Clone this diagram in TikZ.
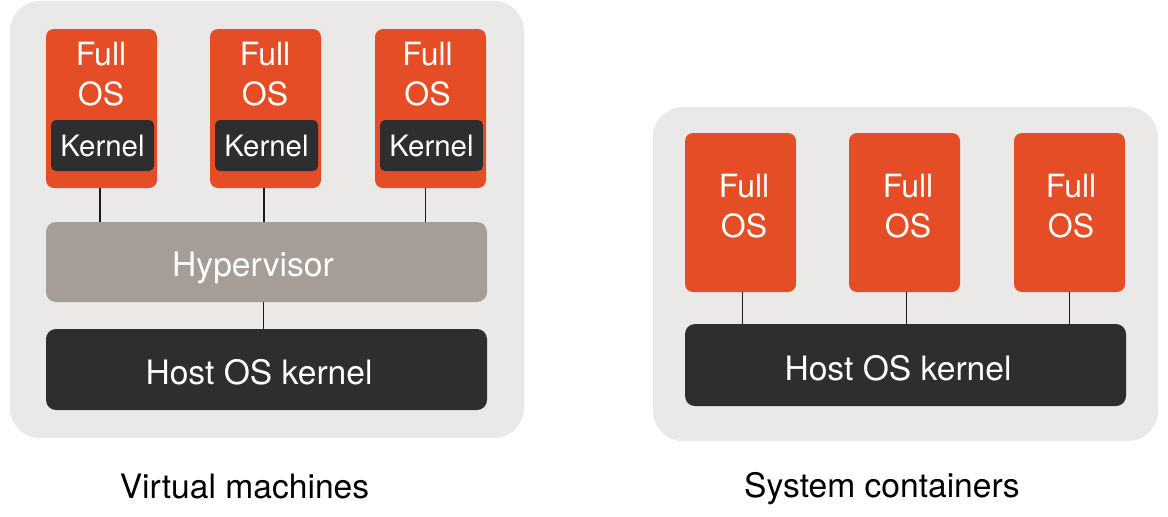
\documentclass[tikz,border=0pt]{standalone}
\usepackage{fontspec}
\setmainfont{TeX Gyre Heros}
\usetikzlibrary{positioning}
\definecolor{stackOrange}{HTML}{E54D26}
\definecolor{stackDark}{HTML}{2E2E2E}
\definecolor{stackGray}{HTML}{A69D97}
\definecolor{stackPanel}{HTML}{EAE9E7}
\definecolor{stackLine}{HTML}{1A1A1A}
\tikzset{
  every picture/.style={x=0.5pt, y=-0.5pt},
  stack panel/.style={fill=stackPanel, rounded corners=15pt, inner sep=0pt},
  os box/.style={fill=stackOrange, rounded corners=4pt, inner sep=0pt,
    minimum width=55.5pt, minimum height=79.5pt},
  os text/.style={text=white, align=center, font=\fontsize{16}{20}\selectfont},
  kernel box/.style={fill=stackDark, rounded corners=2.5pt, inner sep=0pt,
    minimum width=51.5pt, minimum height=25.5pt, text=white,
    font=\fontsize{14.7}{17}\selectfont},
  layer box/.style={rounded corners=5pt, inner sep=0pt, minimum width=220.5pt},
  layer text/.style={anchor=base, inner sep=0pt, text=white,
    font=\fontsize{16.8}{20}\selectfont},
  caption/.style={anchor=base, inner sep=0pt, text=black,
    font=\fontsize{16.8}{20}\selectfont},
  link/.style={draw=stackLine, line width=0.65pt}
}
\begin{document}
\begin{tikzpicture}
  \useasboundingbox (0,0) rectangle (1168,516);
  % virtual machines
  \node[stack panel, minimum width=257pt, minimum height=218.5pt] (vmPanel) at (267,219.5) {};
  \node[os box] (osA) at (101.5,108.5) {};
  \node[os box] (osB) at (265.5,108.5) {};
  \node[os box] (osC) at (430.5,108.5) {};
  \node[os text] (osAtext) at (101,74.5) {Full\\OS};
  \node[os text] (osBtext) at (265,74.5) {Full\\OS};
  \node[os text] (osCtext) at (427.5,74.5) {Full\\OS};
  \node[kernel box] (kernA) at (102.5,145.5) {Kernel};
  \node[kernel box] (kernB) at (266.5,145.5) {Kernel};
  \node[kernel box] (kernC) at (431.5,145.5) {Kernel};
  \node[layer box, fill=stackGray, minimum height=40pt] (hyp) at (266.5,262) {};
  \node[layer text] (hypText) at (253,276) {Hypervisor};
  \node[layer box, fill=stackDark, minimum height=40.5pt] (vmHost) at (266.5,369.5) {};
  \node[layer text] (vmHostText) at (259,384) {Host OS kernel};
  \foreach \vm/\dx in {osA/-1.5,osB/-1.5,osC/-5}
    \draw[link] ([xshift=\dx*0.5pt]\vm.south) -- ([xshift=\dx*0.5pt]\vm.south |- hyp.north);
  \draw[link] ([xshift=-1.5pt]hyp.south) -- ([xshift=-1.5pt]vmHost.north);
  \node[caption] (vmLabel) at (244.5,498) {Virtual machines};
  % system containers
  \node[stack panel, minimum width=252.5pt, minimum height=167pt] (ctPanel) at (905.5,274) {};
  \node[os box] (ctA) at (740.5,212.5) {};
  \node[os box] (ctB) at (904.5,212.5) {};
  \node[os box] (ctC) at (1069.5,212.5) {};
  \node[os text] (ctAtext) at (744,206.5) {Full\\OS};
  \node[os text] (ctBtext) at (908,206.5) {Full\\OS};
  \node[os text] (ctCtext) at (1071,206.5) {Full\\OS};
  \node[layer box, fill=stackDark, minimum height=41pt] (ctHost) at (905.5,365) {};
  \node[layer text] (ctHostText) at (898,380) {Host OS kernel};
  \foreach \ct/\dx in {ctA/2,ctB/2,ctC/0}
    \draw[link] ([xshift=\dx*0.5pt]\ct.south) -- ([xshift=\dx*0.5pt]\ct.south |- ctHost.north);
  \node[caption] (ctLabel) at (882,497.5) {System containers};
\end{tikzpicture}
\end{document}
